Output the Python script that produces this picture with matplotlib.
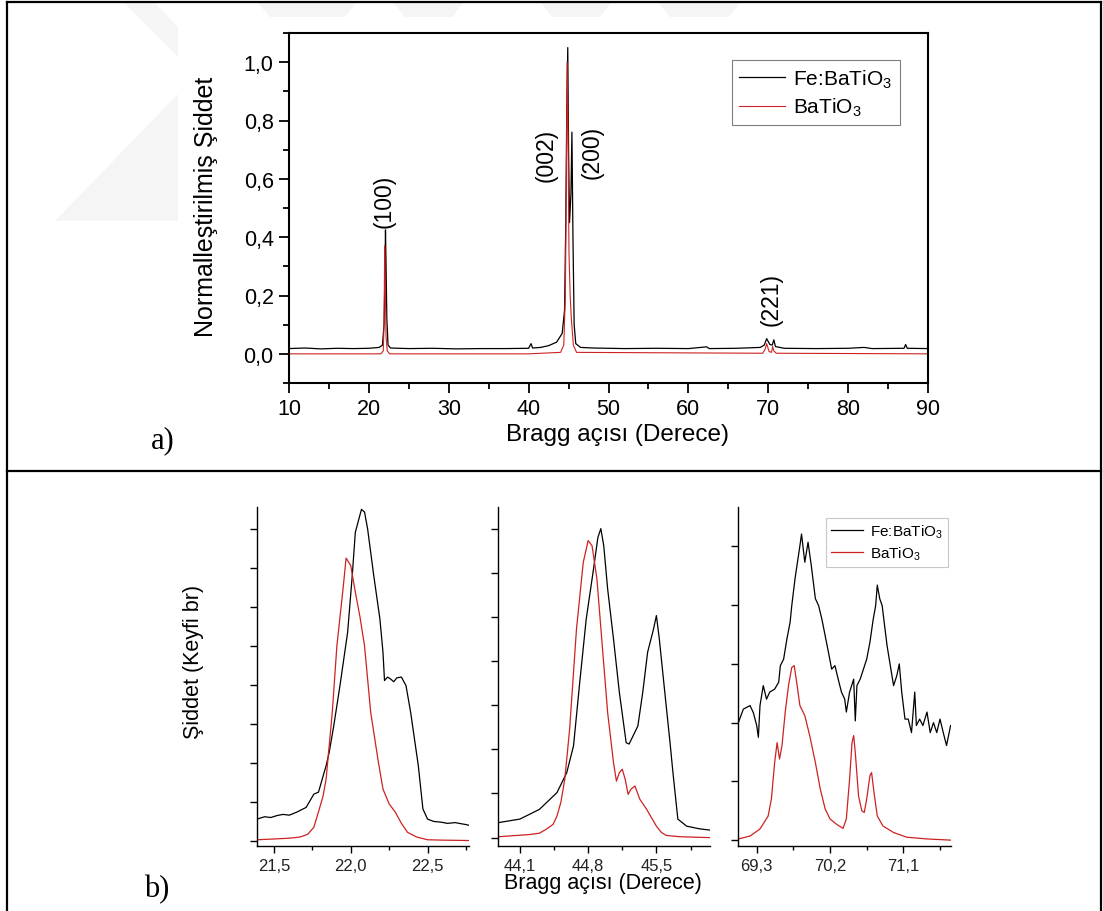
import matplotlib
matplotlib.use("Agg")
import matplotlib.pyplot as plt
from matplotlib.lines import Line2D
from matplotlib.patches import Polygon
from matplotlib.ticker import MultipleLocator, FixedLocator, FuncFormatter

W, H = 1103, 912

plt.rcParams["font.family"] = ["Liberation Sans", "DejaVu Sans"]
plt.rcParams["mathtext.default"] = "regular"

# a) full pattern, normalised intensity
A_X_FE = [10, 12, 14, 16, 18, 20, 21.3, 21.7, 21.9, 22.0, 22.08, 22.15, 22.25, 22.4, 22.7,
          25, 28, 31, 34, 37, 40, 40.3, 40.5, 41.5, 42.5, 43.5, 44.2, 44.5, 44.65, 44.78,
          44.9, 45.0, 45.12, 45.3, 45.42, 45.55, 45.7, 45.9, 46.5, 48, 52, 56, 60, 62.3,
          62.6, 66, 69, 69.5, 69.8, 70.2, 70.5, 70.7, 70.9, 72, 76, 80, 82, 83, 87, 87.2,
          87.4, 90]
A_Y_FE = [0.018, 0.02, 0.017, 0.019, 0.018, 0.019, 0.022, 0.03, 0.1, 0.25, 0.425, 0.3, 0.12,
          0.03, 0.02, 0.018, 0.019, 0.017, 0.018, 0.018, 0.019, 0.035, 0.02, 0.022, 0.028,
          0.04, 0.07, 0.15, 0.45, 0.85, 1.05, 0.7, 0.45, 0.55, 0.76, 0.4, 0.1, 0.035, 0.022,
          0.02, 0.018, 0.019, 0.018, 0.024, 0.018, 0.019, 0.022, 0.03, 0.052, 0.032, 0.03,
          0.048, 0.025, 0.019, 0.018, 0.019, 0.022, 0.018, 0.019, 0.032, 0.019, 0.018]
A_X_BTO = [10, 21.5, 21.8, 21.9, 21.98, 22.05, 22.15, 22.3, 22.6, 40, 44.0, 44.4, 44.6,
           44.75, 44.82, 44.92, 45.05, 45.2, 45.35, 45.6, 46.0, 69.3, 69.6, 69.8, 70.1,
           70.4, 70.55, 70.7, 71.0, 90]
A_Y_BTO = [0.0, 0.0, 0.01, 0.1, 0.37, 0.25, 0.06, 0.01, 0.0, 0.0, 0.005, 0.03, 0.2, 0.7,
           1.0, 0.8, 0.35, 0.2, 0.12, 0.03, 0.005, 0.002, 0.015, 0.035, 0.008, 0.005,
           0.025, 0.01, 0.002, 0.0]

PEAK_LABELS = ["(100)", "(002)", "(200)", "(221)"]
PEAK_X = [21.9, 42.2, 48.0, 70.4]
PEAK_Y = [0.525, 0.683, 0.694, 0.189]

# b) zoomed peaks, arbitrary units
B1_X_FE = [21.39, 21.44, 21.48, 21.52, 21.56, 21.6, 21.65, 21.71, 21.76, 21.79, 21.84, 21.86,
           21.89, 21.93, 21.98, 22.01, 22.03, 22.07, 22.09, 22.11, 22.15, 22.19, 22.21,
           22.22, 22.24, 22.26, 22.28, 22.3, 22.33, 22.36, 22.39, 22.44, 22.47, 22.5,
           22.54, 22.59, 22.63, 22.68, 22.72, 22.75, 22.78]
B1_Y_FE = [0.56, 0.62, 0.6, 0.65, 0.68, 0.66, 0.74, 0.86, 1.2, 1.25, 1.93, 2.27, 2.96, 3.98,
           5.35, 6.8, 7.91, 8.5, 8.43, 8.0, 6.8, 5.69, 4.84, 4.11, 4.2, 4.15, 4.08, 4.18,
           4.2, 3.98, 3.3, 1.93, 0.82, 0.56, 0.5, 0.48, 0.45, 0.47, 0.44, 0.42, 0.39]
B1_X_BTO = [21.39, 21.5, 21.6, 21.67, 21.72, 21.76, 21.79, 21.82, 21.84, 21.88, 21.91, 21.95,
            21.97, 22.0, 22.03, 22.06, 22.09, 22.13, 22.18, 22.21, 22.25, 22.29, 22.33,
            22.37, 22.43, 22.5, 22.6, 22.78]
B1_Y_BTO = [0.03, 0.05, 0.07, 0.1, 0.17, 0.35, 0.74, 1.15, 1.59, 3.3, 5.0, 6.46, 7.25, 7.06,
            6.38, 5.75, 5.0, 3.3, 2.02, 1.33, 0.95, 0.74, 0.45, 0.22, 0.1, 0.03, 0.02, 0.01]

B2_X_FE = [43.88, 44.1, 44.3, 44.48, 44.58, 44.65, 44.71, 44.78, 44.85, 44.9, 44.93, 44.96,
           45.0, 45.06, 45.12, 45.19, 45.22, 45.26, 45.31, 45.36, 45.41, 45.47, 45.5, 45.53,
           45.59, 45.64, 45.67, 45.72, 45.81, 45.94, 46.05]
B2_Y_FE = [0.34, 0.42, 0.64, 1.02, 1.47, 2.08, 3.44, 4.95, 6.01, 6.8, 7.0, 6.61, 5.63, 4.5,
           3.29, 2.15, 2.12, 2.3, 2.53, 3.29, 4.2, 4.72, 5.03, 4.5, 3.21, 2.15, 1.47, 0.42,
           0.26, 0.2, 0.17]
B2_X_BTO = [43.88, 44.2, 44.3, 44.37, 44.44, 44.48, 44.52, 44.56, 44.61, 44.68, 44.75, 44.8,
            44.84, 44.89, 44.95, 45.0, 45.06, 45.09, 45.12, 45.15, 45.18, 45.21, 45.24,
            45.28, 45.33, 45.4, 45.45, 45.5, 45.55, 45.6, 45.74, 46.05]
B2_Y_BTO = [0.02, 0.07, 0.1, 0.19, 0.3, 0.49, 0.8, 1.32, 2.46, 4.72, 6.24, 6.73, 6.61, 5.86,
            4.2, 2.83, 1.7, 1.28, 1.47, 1.55, 1.32, 0.98, 1.1, 1.17, 0.87, 0.64, 0.45, 0.26,
            0.12, 0.05, 0.02, 0.0]

B3_X_FE = [69.074, 69.136, 69.218, 69.258, 69.3, 69.32, 69.34, 69.38, 69.42, 69.46, 69.52,
           69.57, 69.59, 69.63, 69.67, 69.71, 69.73, 69.77, 69.8, 69.83, 69.85, 69.89, 69.93,
           69.97, 70.02, 70.06, 70.1, 70.14, 70.18, 70.22, 70.26, 70.3, 70.34, 70.38, 70.4,
           70.44, 70.49, 70.51, 70.53, 70.57, 70.61, 70.65, 70.69, 70.73, 70.76, 70.78,
           70.81, 70.84, 70.86, 70.9, 70.94, 70.98, 71.02, 71.05, 71.08, 71.12, 71.16, 71.2,
           71.24, 71.26, 71.3, 71.34, 71.39, 71.43, 71.47, 71.51, 71.55, 71.59, 71.63, 71.68]
B3_Y_FE = [2.0, 2.23, 2.29, 2.17, 1.95, 1.75, 2.29, 2.63, 2.4, 2.52, 2.57, 2.69, 2.97, 3.08,
           3.42, 3.71, 3.99, 4.45, 4.73, 5.01, 5.21, 4.73, 5.07, 4.67, 4.11, 3.99, 3.76, 3.48,
           3.2, 2.91, 2.97, 2.74, 2.52, 2.4, 2.18, 2.52, 2.74, 2.03, 2.63, 2.74, 2.91, 3.08,
           3.37, 3.76, 3.99, 4.34, 4.11, 3.99, 3.76, 3.31, 2.97, 2.63, 2.8, 3.0, 2.52, 2.06,
           2.06, 1.83, 2.52, 1.95, 2.06, 1.95, 2.18, 1.83, 2.0, 1.83, 2.06, 1.83, 1.61, 1.95]
B3_X_BTO = [69.074, 69.218, 69.34, 69.44, 69.48, 69.52, 69.55, 69.58, 69.61, 69.65, 69.69,
            69.73, 69.76, 69.79, 69.83, 69.89, 69.95, 70.02, 70.08, 70.14, 70.2, 70.28, 70.36,
            70.4, 70.44, 70.47, 70.49, 70.51, 70.55, 70.59, 70.62, 70.65, 70.69, 70.71,
            70.74, 70.78, 70.85, 70.98, 71.14, 71.39, 71.68]
B3_Y_BTO = [0.02, 0.07, 0.19, 0.41, 0.7, 1.32, 1.66, 1.38, 1.61, 2.18, 2.63, 2.94, 2.97, 2.69,
            2.29, 2.12, 1.78, 1.32, 0.87, 0.53, 0.36, 0.27, 0.2, 0.36, 1.04, 1.66, 1.78, 1.49,
            0.75, 0.5, 0.47, 0.7, 1.1, 1.15, 0.81, 0.41, 0.24, 0.13, 0.05, 0.02, 0.0]

LABEL_FE = "Fe:BaTiO$_3$"
LABEL_BTO = "BaTiO$_3$"
BLACK = "#000000"
RED = "#cc2222"


def px(x, y):
    return x / W, 1 - y / H


def box(x0, y0, x1, y1):
    return [x0 / W, 1 - y1 / H, (x1 - x0) / W, (y1 - y0) / H]


def comma(value, _pos):
    return f"{value:.1f}".replace(".", ",")


fig = plt.figure(figsize=(W / 100, H / 100), dpi=100)

# faint background mark in the upper left corner
for shape in ([(55, 222), (178, 95), (178, 222)],
              [(123, 3), (154, 3), (178, 28), (178, 58)],
              [(257, 3), (357, 3), (345, 18), (270, 18)],
              [(393, 3), (464, 3), (452, 18), (405, 18)],
              [(540, 3), (612, 3), (600, 18), (552, 18)],
              [(658, 3), (741, 3), (729, 18), (670, 18)]):
    fig.add_artist(Polygon([px(*p) for p in shape], closed=True, facecolor="#f5f5f5",
                           edgecolor="none", transform=fig.transFigure, zorder=0))

# outer frame and divider
for xs, ys in (([7, 7], [3, 912]), ([1101, 1101], [3, 912]),
               ([7, 1101], [3, 3]), ([7, 1101], [472, 472])):
    pts = [px(x, y) for x, y in zip(xs, ys)]
    fig.add_artist(Line2D([p[0] for p in pts], [p[1] for p in pts], color="black",
                          lw=1.6, transform=fig.transFigure))

# ---- panel a ----
ax = fig.add_axes(box(289, 34, 928, 384))
ax.plot(A_X_FE, A_Y_FE, color=BLACK, lw=0.9, label=LABEL_FE)
ax.plot(A_X_BTO, A_Y_BTO, color=RED, lw=0.8, label=LABEL_BTO)
ax.set_xlim(10, 90)
ax.set_ylim(-0.1, 1.1)
ax.xaxis.set_major_locator(MultipleLocator(10))
ax.xaxis.set_minor_locator(MultipleLocator(5))
ax.yaxis.set_major_locator(MultipleLocator(0.2))
ax.yaxis.set_minor_locator(MultipleLocator(0.1))
ax.yaxis.set_major_formatter(FuncFormatter(comma))
for spine in ax.spines.values():
    spine.set_linewidth(1.5)
ax.tick_params(which="major", direction="out", length=7, width=1.3, labelsize=15.5, pad=4)
ax.tick_params(which="minor", direction="out", length=4.5, width=1.3)
for label, x, y in zip(PEAK_LABELS, PEAK_X, PEAK_Y):
    ax.text(x, y, label, rotation=90, ha="center", va="center", fontsize=16.5)
leg = ax.legend(loc="upper left", bbox_to_anchor=px(732, 61), bbox_transform=fig.transFigure,
                borderaxespad=0, fontsize=15, handlelength=2.2, handletextpad=0.4,
                borderpad=0.35, labelspacing=0.3, fancybox=False, framealpha=1,
                edgecolor="#7f7f7f")
leg.get_frame().set_linewidth(0.8)
fig.text(*px(618, 435), "Bragg açısı (Derece)", ha="center", va="center", fontsize=17.5)
fig.text(*px(206, 207), "Normalleştirilmiş Şiddet", ha="center", va="center",
         rotation=90, fontsize=18)
fig.text(*px(163, 441), "a)", ha="center", va="center", fontsize=22,
         family=["Liberation Serif", "DejaVu Serif"])

# ---- panel b ----
panels = [
    ((257, 508, 469, 847), (21.39, 22.77), (-0.13, 8.56), B1_X_FE, B1_Y_FE, B1_X_BTO, B1_Y_BTO,
     [21.5, 22.0, 22.5], [21.75, 22.25, 22.75], 8),
    ((498, 508, 710, 847), (43.875, 46.05), (-0.19, 7.49), B2_X_FE, B2_Y_FE, B2_X_BTO, B2_Y_BTO,
     [44.1, 44.8, 45.5], [44.45, 45.15, 45.85], 7),
    ((738, 508, 951, 847), (69.07, 71.685), (-0.1, 5.67), B3_X_FE, B3_Y_FE, B3_X_BTO, B3_Y_BTO,
     [69.3, 70.2, 71.1], [69.75, 70.65, 71.55], 5),
]
axes_b = []
for rect, xlim, ylim, xf, yf, xb, yb, major, minor, ntick in panels:
    axb = fig.add_axes(box(*rect))
    axb.plot(xf, yf, color=BLACK, lw=0.9, label=LABEL_FE)
    axb.plot(xb, yb, color=RED, lw=0.9, label=LABEL_BTO)
    axb.set_xlim(*xlim)
    axb.set_ylim(*ylim)
    axb.spines["top"].set_visible(False)
    axb.spines["right"].set_visible(False)
    for side in ("left", "bottom"):
        axb.spines[side].set_linewidth(1.0)
    axb.xaxis.set_major_locator(FixedLocator(major))
    axb.xaxis.set_minor_locator(FixedLocator(minor))
    axb.xaxis.set_major_formatter(FuncFormatter(comma))
    axb.yaxis.set_major_locator(FixedLocator(list(range(ntick + 1))))
    axb.tick_params(axis="y", labelleft=False, direction="out", length=5, width=1.0)
    axb.tick_params(axis="x", which="major", direction="out", length=5, width=1.0,
                    labelsize=12, labelcolor="#222222", pad=4)
    axb.tick_params(axis="x", which="minor", direction="out", length=3, width=1.0)
    axes_b.append(axb)

leg_b = axes_b[2].legend(loc="upper left", bbox_to_anchor=px(826, 519),
                         bbox_transform=fig.transFigure, borderaxespad=0, fontsize=11,
                         handlelength=2.1, handletextpad=0.5, borderpad=0.3,
                         labelspacing=0.3, fancybox=False, framealpha=1, edgecolor="#c8c8c8")
leg_b.get_frame().set_linewidth(0.8)

fig.text(*px(603, 884), "Bragg açısı (Derece)", ha="center", va="center", fontsize=15.5)
fig.text(*px(193, 662), "Şiddet (Keyfi br)", ha="center", va="center", rotation=90,
         fontsize=15.5)
fig.text(*px(157, 890), "b)", ha="center", va="center", fontsize=22,
         family=["Liberation Serif", "DejaVu Serif"])

fig.savefig("out.png", dpi=100, facecolor="white")
